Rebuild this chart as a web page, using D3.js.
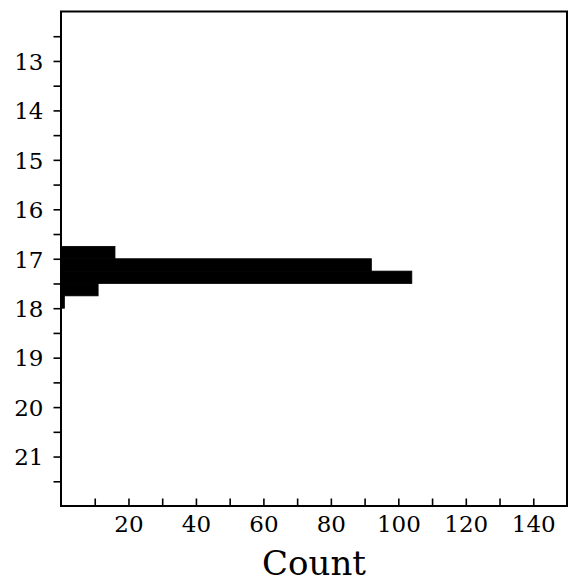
<!DOCTYPE html>
<html>
<head>
<meta charset="utf-8">
<script src="https://cdn.jsdelivr.net/npm/d3@7"></script>
<style>
  html, body { margin: 0; padding: 0; background: #fff; }
  svg { display: block; }
  text { font-family: "DejaVu Serif", serif; fill: #000; }
</style>
</head>
<body>
<svg id="chart" width="577" height="582"></svg>
<script>
// Histogram bins (value ranges) and their counts, drawn horizontally
const binEdges = [16.75, 17.0, 17.25, 17.5, 17.75, 18.0];
const counts = [16, 92, 104, 11, 1];

// Axis ticks
const yMajorTicks = [13, 14, 15, 16, 17, 18, 19, 20, 21];
const yMinorTicks = [12.5, 13.5, 14.5, 15.5, 16.5, 17.5, 18.5, 19.5, 20.5, 21.5];
const xTicks = [10, 20, 30, 40, 50, 60, 70, 80, 90, 100, 110, 120, 130, 140];
const xTickLabels = ["20", "40", "60", "80", "100", "120", "140"];
const xLabel = "Count";

(function draw() {
  const left = 61, right = 567, top = 11.5, bottom = 506;

  const svg = d3.select("#chart");

  const x = d3.scaleLinear().domain([0, 150]).range([left, right]);
  const y = d3.scaleLinear().domain([12, 22]).range([top, bottom]);

  const bins = counts.map((c, i) => ({ lo: binEdges[i], hi: binEdges[i + 1], count: c }));

  // Bars (a thin same-colour edge closes the seams between adjacent bins)
  svg.append("g")
    .selectAll("rect")
    .data(bins)
    .join("rect")
    .attr("x", x(0))
    .attr("y", d => y(d.lo))
    .attr("width", d => x(d.count) - x(0))
    .attr("height", d => y(d.hi) - y(d.lo))
    .attr("fill", "#000")
    .attr("stroke", "#000")
    .attr("stroke-width", 0.8);

  // Y axis: ticks pointing outward, integers labelled
  const yAxis = d3.axisLeft(y)
    .tickValues(yMajorTicks.concat(yMinorTicks))
    .tickSize(7.5)
    .tickPadding(10)
    .tickFormat(d => yMajorTicks.includes(d) ? d3.format("d")(d) : "");
  const gy = svg.append("g").attr("transform", `translate(${left},0)`).call(yAxis);
  gy.select(".domain").remove();
  gy.selectAll(".tick line").attr("stroke", "#000").attr("stroke-width", 1.6);
  gy.selectAll(".tick text").style("font-size", "23px").attr("dy", "0.36em");

  // X axis: ticks pointing into the plot, labels below
  const xAxis = d3.axisBottom(x)
    .tickValues(xTicks)
    .tickSize(0)
    .tickPadding(10)
    .tickFormat(d => xTickLabels.includes(String(d)) ? String(d) : "");
  const gx = svg.append("g").attr("transform", `translate(0,${bottom})`).call(xAxis);
  gx.select(".domain").remove();
  gx.selectAll(".tick line").attr("y2", -7.5).attr("stroke", "#000").attr("stroke-width", 1.6);
  gx.selectAll(".tick text").style("font-size", "23px").attr("dy", "0.71em");

  // Frame
  svg.append("rect")
    .attr("x", left).attr("y", top)
    .attr("width", right - left).attr("height", bottom - top)
    .attr("fill", "none").attr("stroke", "#000").attr("stroke-width", 2);

  // Axis label
  svg.append("text")
    .attr("x", (left + right) / 2)
    .attr("y", 575)
    .attr("text-anchor", "middle")
    .style("font-size", "34px")
    .text(xLabel);
})();
</script>
</body>
</html>
